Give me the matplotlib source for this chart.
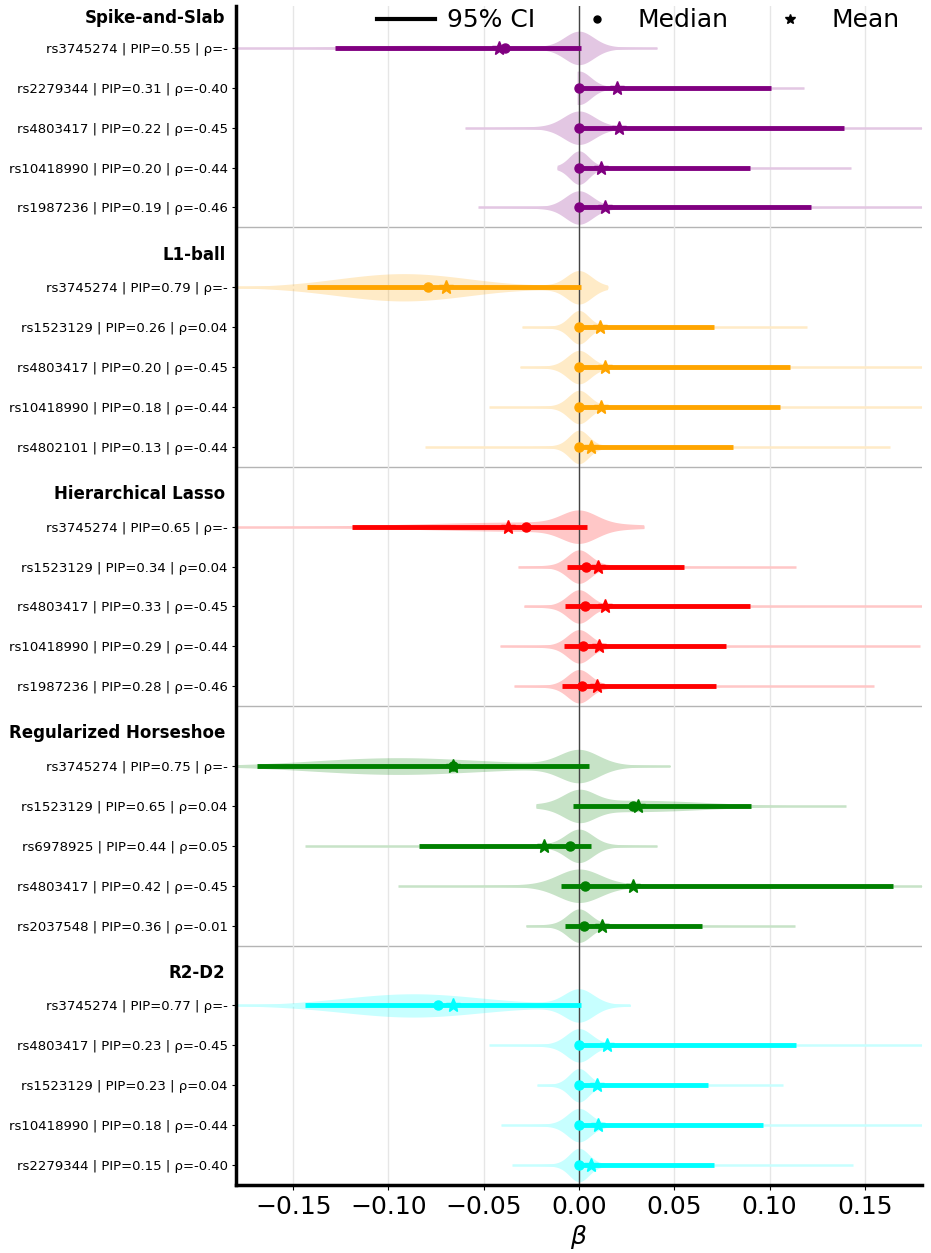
import numpy as np
import matplotlib

matplotlib.use("Agg")
import matplotlib.pyplot as plt
from matplotlib.colors import to_rgb
from matplotlib.lines import Line2D

# methods and their colours
METHODS = ["Spike-and-Slab", "L1-ball", "Hierarchical Lasso", "Regularized Horseshoe", "R2-D2"]
COLORS = ["purple", "orange", "red", "green", "cyan"]

# top-5 SNP labels per method
LABELS = [
    ["rs3745274 | PIP=0.55 | ρ=-", "rs2279344 | PIP=0.31 | ρ=-0.40", "rs4803417 | PIP=0.22 | ρ=-0.45",
     "rs10418990 | PIP=0.20 | ρ=-0.44", "rs1987236 | PIP=0.19 | ρ=-0.46"],
    ["rs3745274 | PIP=0.79 | ρ=-", "rs1523129 | PIP=0.26 | ρ=0.04", "rs4803417 | PIP=0.20 | ρ=-0.45",
     "rs10418990 | PIP=0.18 | ρ=-0.44", "rs4802101 | PIP=0.13 | ρ=-0.44"],
    ["rs3745274 | PIP=0.65 | ρ=-", "rs1523129 | PIP=0.34 | ρ=0.04", "rs4803417 | PIP=0.33 | ρ=-0.45",
     "rs10418990 | PIP=0.29 | ρ=-0.44", "rs1987236 | PIP=0.28 | ρ=-0.46"],
    ["rs3745274 | PIP=0.75 | ρ=-", "rs1523129 | PIP=0.65 | ρ=0.04", "rs6978925 | PIP=0.44 | ρ=0.05",
     "rs4803417 | PIP=0.42 | ρ=-0.45", "rs2037548 | PIP=0.36 | ρ=-0.01"],
    ["rs3745274 | PIP=0.77 | ρ=-", "rs4803417 | PIP=0.23 | ρ=-0.45", "rs1523129 | PIP=0.23 | ρ=0.04",
     "rs10418990 | PIP=0.18 | ρ=-0.44", "rs2279344 | PIP=0.15 | ρ=-0.40"],
]

# posterior sample range (min, max)
LO = [
    [-0.19, -0.001, -0.060, -0.0115, -0.053],
    [-0.19, -0.030, -0.031, -0.047, -0.081],
    [-0.19, -0.032, -0.029, -0.0416, -0.034],
    [-0.19, -0.0226, -0.144, -0.095, -0.028],
    [-0.19, -0.047, -0.022, -0.041, -0.035],
]
HI = [
    [0.041, 0.118, 0.19, 0.143, 0.19],
    [0.015, 0.1196, 0.19, 0.19, 0.163],
    [0.034, 0.114, 0.19, 0.179, 0.155],
    [0.048, 0.140, 0.041, 0.19, 0.1136],
    [0.027, 0.19, 0.107, 0.19, 0.144],
]

# 95% credible intervals
CI_LO = [
    [-0.128, 0.0, 0.0, 0.0, 0.0],
    [-0.143, 0.0, 0.0, 0.0, 0.0],
    [-0.119, -0.0065, -0.0074, -0.008, -0.009],
    [-0.169, -0.0032, -0.084, -0.0092, -0.0074],
    [-0.144, 0.0, 0.0, 0.0, -0.002],
]
CI_HI = [
    [0.001, 0.101, 0.139, 0.090, 0.122],
    [0.001, 0.071, 0.111, 0.1055, 0.081],
    [0.004, 0.055, 0.0896, 0.077, 0.072],
    [0.005, 0.0905, 0.0065, 0.165, 0.0647],
    [0.001, 0.114, 0.0677, 0.0965, 0.071],
]

MEDIAN = [
    [-0.039, 0.0, 0.0, 0.0, 0.0],
    [-0.079, 0.0, 0.0, 0.0, 0.0],
    [-0.028, 0.0035, 0.003, 0.002, 0.0018],
    [-0.066, 0.0284, -0.0048, 0.003, 0.0028],
    [-0.074, 0.0, 0.0, 0.0, 0.0],
]
MEAN = [
    [-0.042, 0.020, 0.021, 0.0115, 0.0134],
    [-0.070, 0.011, 0.0134, 0.0115, 0.0065],
    [-0.037, 0.010, 0.0134, 0.0104, 0.0092],
    [-0.066, 0.031, -0.0185, 0.0286, 0.012],
    [-0.066, 0.0145, 0.0092, 0.0099, 0.0065],
]

# violin shape: spike at zero (sd) + slab (centre, sd, relative height)
SPIKE_SD = [
    [0.0075, 0.006, 0.008, 0.005, 0.007],
    [0.0065, 0.005, 0.006, 0.0055, 0.005],
    [0.009, 0.006, 0.006, 0.006, 0.006],
    [0.010, 0.008, 0.007, 0.011, 0.006],
    [0.0075, 0.0065, 0.005, 0.006, 0.005],
]
SLAB_MU = [
    [-0.085, 0.06, 0.07, 0.05, 0.07],
    [-0.092, 0.04, 0.06, 0.06, 0.04],
    [-0.040, 0.03, 0.05, 0.04, 0.04],
    [-0.095, 0.035, -0.04, 0.07, 0.035],
    [-0.087, 0.06, 0.04, 0.05, 0.04],
]
SLAB_SD = [
    [0.035, 0.035, 0.05, 0.04, 0.045],
    [0.035, 0.03, 0.04, 0.04, 0.035],
    [0.050, 0.03, 0.04, 0.04, 0.035],
    [0.045, 0.035, 0.035, 0.05, 0.03],
    [0.037, 0.045, 0.03, 0.04, 0.03],
]
SLAB_H = [
    [0.17, 0.04, 0.04, 0.03, 0.04],
    [0.92, 0.04, 0.04, 0.04, 0.04],
    [0.33, 0.05, 0.05, 0.05, 0.05],
    [0.58, 0.42, 0.06, 0.06, 0.05],
    [0.80, 0.04, 0.04, 0.04, 0.04],
]

HALF_WIDTH = 0.42
ALPHA = 0.22


def violin_profile(lo, hi, s0, mu, s1, h):
    x = np.linspace(lo, hi, 500)
    d = np.exp(-0.5 * (x / s0) ** 2) + 0.1 * np.exp(-0.5 * (x / (3 * s0)) ** 2)
    d += h * np.exp(-0.5 * ((x - mu) / s1) ** 2)
    return x, d / d.max() * HALF_WIDTH


def light(col):
    r, g, b = to_rgb(col)
    return tuple(1 - ALPHA * (1 - c) for c in (r, g, b))


fig = plt.figure(figsize=(9.31, 12.53), dpi=100)
ax = fig.add_axes([0.2535, 0.0543, 0.9903 - 0.2535, 0.9952 - 0.0543])

yticks, ylabels = [], []
for g, (name, col) in enumerate(zip(METHODS, COLORS)):
    base = 6 * g
    for i in range(5):
        y = base + i + 1
        yticks.append(y)
        ylabels.append(LABELS[g][i])

        x, w = violin_profile(LO[g][i], HI[g][i], SPIKE_SD[g][i],
                              SLAB_MU[g][i], SLAB_SD[g][i], SLAB_H[g][i])
        ax.fill_between(x, y - w, y + w, color=col, alpha=ALPHA, lw=0, zorder=1)
        ax.plot([LO[g][i], HI[g][i]], [y, y], color=light(col), lw=1.8,
                solid_capstyle="butt", zorder=1.5)
        ax.plot([CI_LO[g][i], CI_HI[g][i]], [y, y], color=col, lw=3.5,
                solid_capstyle="butt", zorder=3)
        ax.plot(MEDIAN[g][i], y, "o", color=col, ms=6.5, zorder=4)
        ax.plot(MEAN[g][i], y, "*", color=col, ms=10, zorder=4)

    hy = base + (0.25 if g == 0 else 0.18)
    ax.annotate(name, xy=(0, hy), xycoords=("axes fraction", "data"),
                xytext=(-7.5, 0), textcoords="offset points",
                ha="right", va="center", fontsize=12, fontweight="bold")
    if g < len(METHODS) - 1:
        ax.axhline(base + 5.5, color="#b4b4b4", lw=1, zorder=0.5)

ax.axvline(0, color="#444444", lw=1, zorder=2)

ax.set_xlim(-0.18, 0.18)
ax.set_ylim(29.5, -0.05)
ax.set_yticks(yticks)
ax.set_yticklabels(ylabels, fontsize=9.5)
ax.tick_params(axis="y", length=3, pad=3)
ax.set_xticks([-0.15, -0.10, -0.05, 0.0, 0.05, 0.10, 0.15])
ax.tick_params(axis="x", labelsize=18)
ax.set_xlabel(r"$\beta$", fontsize=18, labelpad=3)
ax.grid(axis="x", color="#e6e6e6", lw=1, zorder=0)
ax.set_axisbelow(True)

for side in ["top", "right"]:
    ax.spines[side].set_visible(False)
ax.spines["left"].set_linewidth(2.5)
ax.spines["bottom"].set_linewidth(2.5)

handles = [
    Line2D([], [], color="black", lw=3),
    Line2D([], [], color="black", marker="o", ls="none", ms=5),
    Line2D([], [], color="black", marker="*", ls="none", ms=7),
]
ax.legend(handles, ["95% CI", "Median", "Mean"], loc="upper right",
          bbox_to_anchor=(1.0, 1.017), ncol=3, frameon=False, fontsize=18,
          handlelength=2.3, handletextpad=0.5, columnspacing=1.3)

fig.savefig("out.png", dpi=100)
